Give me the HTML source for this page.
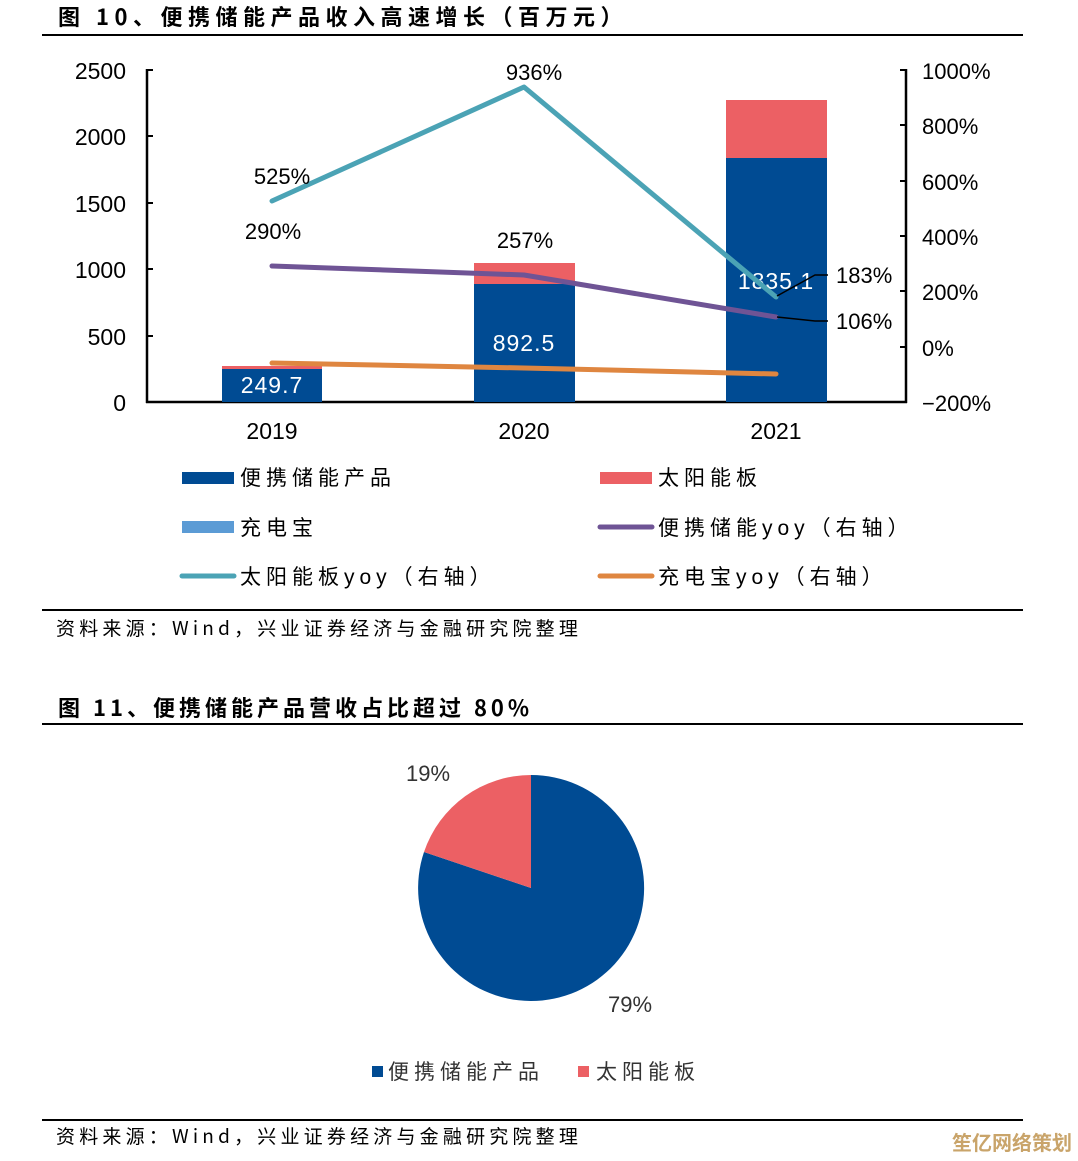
<!DOCTYPE html>
<html><head><meta charset="utf-8"><style>
body{margin:0;background:#fff;}
svg{display:block;}
text{font-family:"Liberation Sans","Noto Sans CJK SC",sans-serif;}
.cj{font-family:"Noto Sans CJK SC","WenQuanYi Zen Hei",sans-serif;}
</style></head><body>
<svg width="1078" height="1161" viewBox="0 0 1078 1161">
<text x="58" y="25" font-size="22" font-weight="bold" class="cj" letter-spacing="5.5">图 10、便携储能产品收入高速增长（百万元）</text>
<line x1="42" y1="35" x2="1023" y2="35" stroke="#000" stroke-width="2"/>
<g stroke="#000" stroke-width="2.5">
<line x1="147" y1="69" x2="147" y2="403"/>
<line x1="146" y1="402" x2="907" y2="402"/>
<line x1="906" y1="69" x2="906" y2="403"/>
</g>
<g stroke="#000" stroke-width="2">
<line x1="147" y1="70" x2="153" y2="70"/><line x1="147" y1="136" x2="153" y2="136"/><line x1="147" y1="203" x2="153" y2="203"/><line x1="147" y1="269" x2="153" y2="269"/><line x1="147" y1="336" x2="153" y2="336"/>
<line x1="900" y1="70" x2="906" y2="70"/><line x1="900" y1="125" x2="906" y2="125"/><line x1="900" y1="181" x2="906" y2="181"/><line x1="900" y1="236" x2="906" y2="236"/><line x1="900" y1="291" x2="906" y2="291"/><line x1="900" y1="347" x2="906" y2="347"/>
</g>
<g font-size="23" text-anchor="end">
<text x="126" y="79">2500</text><text x="126" y="145">2000</text><text x="126" y="212">1500</text><text x="126" y="278">1000</text><text x="126" y="345">500</text><text x="126" y="411">0</text>
</g>
<g font-size="22">
<text x="922" y="79">1000%</text><text x="922" y="134">800%</text><text x="922" y="190">600%</text><text x="922" y="245">400%</text><text x="922" y="300">200%</text><text x="922" y="356">0%</text><text x="922" y="411">−200%</text>
</g>
<g font-size="23" text-anchor="middle">
<text x="272" y="439">2019</text><text x="524" y="439">2020</text><text x="776" y="439">2021</text>
</g>
<rect x="222" y="366" width="100" height="3" fill="#ec6064"/>
<rect x="222" y="369" width="100" height="33" fill="#004b93"/>
<rect x="474" y="263" width="101" height="21" fill="#ec6064"/>
<rect x="474" y="284" width="101" height="118" fill="#004b93"/>
<rect x="726" y="100" width="101" height="58" fill="#ec6064"/>
<rect x="726" y="158" width="101" height="244" fill="#004b93"/>
<g font-size="23" fill="#fff" text-anchor="middle" letter-spacing="1">
<text x="272" y="393">249.7</text><text x="524" y="351">892.5</text><text x="776" y="289">1835.1</text>
</g>
<g fill="none" stroke-width="5" stroke-linecap="round" stroke-linejoin="round">
<polyline points="272,201 524,87 776,297" stroke="#4ba3b5"/>
<polyline points="272,266 524,275 776,317" stroke="#6f5495"/>
<polyline points="272,363 524,368 776,374" stroke="#df8640"/>
</g>
<g stroke="#000" stroke-width="1.5" fill="none">
<polyline points="777,296 815,275 828,275"/>
<polyline points="777,317 815,321 828,321"/>
</g>
<g font-size="22" text-anchor="middle">
<text x="282" y="184">525%</text><text x="534" y="80">936%</text><text x="273" y="239">290%</text><text x="525" y="248">257%</text>
</g>
<g font-size="22"><text x="836" y="283">183%</text><text x="836" y="329">106%</text></g>
<g font-size="21" class="cj" letter-spacing="5">
<rect x="182" y="472" width="52" height="12" fill="#004b93"/><text x="240" y="485">便携储能产品</text>
<rect x="600" y="472" width="52" height="12" fill="#ec6064"/><text x="658" y="485">太阳能板</text>
<rect x="182" y="521" width="52" height="12" fill="#5b9bd5"/><text x="240" y="535">充电宝</text>
<line x1="600" y1="527" x2="652" y2="527" stroke="#6f5495" stroke-width="5" stroke-linecap="round"/><text x="658" y="535">便携储能yoy（右轴）</text>
<line x1="182" y1="576" x2="234" y2="576" stroke="#4ba3b5" stroke-width="5" stroke-linecap="round"/><text x="240" y="584">太阳能板yoy（右轴）</text>
<line x1="600" y1="576" x2="652" y2="576" stroke="#df8640" stroke-width="5" stroke-linecap="round"/><text x="658" y="584">充电宝yoy（右轴）</text>
</g>
<line x1="42" y1="610" x2="1023" y2="610" stroke="#000" stroke-width="2"/>
<text x="56" y="635" font-size="19" class="cj" letter-spacing="4.2">资料来源：Wind，兴业证券经济与金融研究院整理</text>
<text x="58" y="716" font-size="22" font-weight="bold" class="cj" letter-spacing="4">图 11、便携储能产品营收占比超过 80%</text>
<line x1="42" y1="724" x2="1023" y2="724" stroke="#000" stroke-width="2"/>
<path d="M531,888 L531,775 A113,113 0 1,1 424,852 Z" fill="#004b93"/>
<path d="M531,888 L424,852 A113,113 0 0,1 531,775 Z" fill="#ec6064"/>
<text x="406" y="781" font-size="22" fill="#333" font-family="Liberation Serif">19%</text>
<text x="608" y="1012" font-size="22" fill="#333" font-family="Liberation Serif">79%</text>
<rect x="372" y="1066" width="11" height="11" fill="#004b93"/>
<text x="388" y="1079" font-size="21" fill="#333" class="cj" letter-spacing="5">便携储能产品</text>
<rect x="578" y="1066" width="11" height="11" fill="#ec6064"/>
<text x="596" y="1079" font-size="21" fill="#333" class="cj" letter-spacing="5">太阳能板</text>
<line x1="42" y1="1120" x2="1023" y2="1120" stroke="#000" stroke-width="2"/>
<text x="56" y="1143" font-size="19" class="cj" letter-spacing="4.2">资料来源：Wind，兴业证券经济与金融研究院整理</text>
<text x="1072" y="1150" font-size="20" font-weight="bold" fill="#c9a46a" text-anchor="end" class="cj">笙亿网络策划</text>
</svg>
</body></html>
